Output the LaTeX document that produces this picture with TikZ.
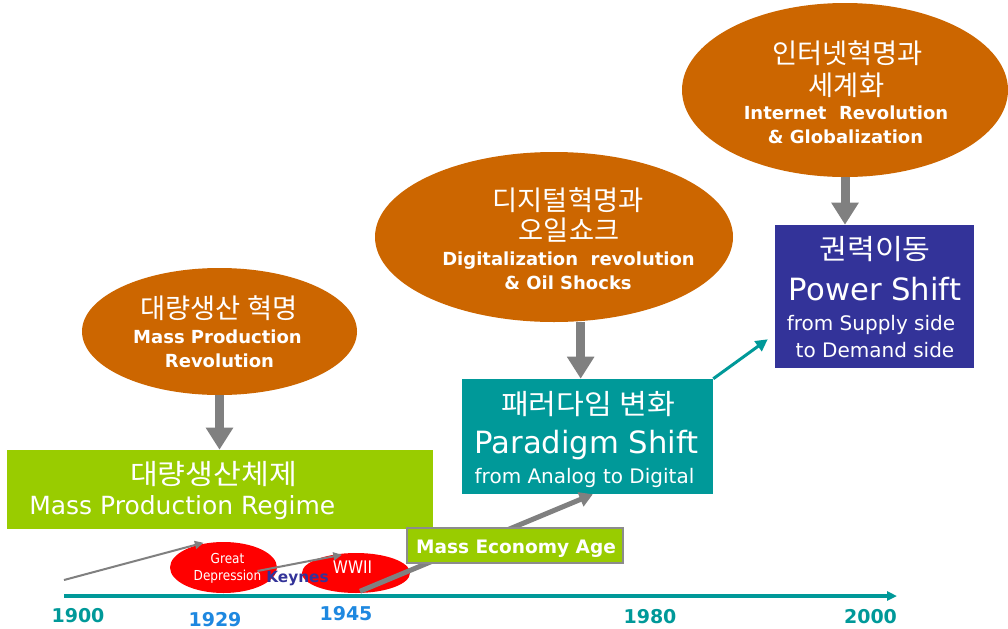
\documentclass[tikz,border=0pt]{standalone}
\usepackage{fontspec}
\setmainfont{DejaVu Sans}
\newfontfamily\kr{Noto Sans CJK KR}
\newfontfamily\krwide[FakeStretch=1.08]{Noto Sans CJK KR}
\newfontfamily\narrowsans[FakeStretch=0.88]{DejaVu Sans}
\usetikzlibrary{shapes.geometric,arrows.meta,calc}
\definecolor{burnt}{HTML}{CC6600}
\definecolor{lime}{HTML}{99CC00}
\definecolor{tealc}{HTML}{009999}
\definecolor{navyc}{HTML}{333399}
\definecolor{arrowgray}{HTML}{808080}
\definecolor{yearblue}{HTML}{1E88E0}
\definecolor{redfill}{HTML}{FF0000}
\definecolor{edgegray}{HTML}{8C8C8C}

\begin{document}
\begin{tikzpicture}[x=0.75pt,y=-0.75pt,
  bubble/.style={ellipse, fill=burnt, draw=none, inner sep=0pt},
  panel/.style={rectangle, draw=none, inner sep=0pt},
  eventblob/.style={ellipse, fill=redfill, draw=none, inner sep=0pt},
  txtline/.style={anchor=base, text=white, inner sep=0pt},
  kor/.style={txtline, font=\kr\fontsize{20.5}{24}\selectfont},
  korpanel/.style={txtline, font=\krwide\fontsize{21}{25}\selectfont},
  engbold/.style={txtline, font=\bfseries\fontsize{13.5}{16}\selectfont},
  engbig/.style={txtline, font=\fontsize{23}{27}\selectfont},
  engsmall/.style={txtline, font=\fontsize{15}{18}\selectfont},
  year/.style={anchor=base, inner sep=0pt, font=\bfseries\fontsize{14.25}{17}\selectfont},
  bigarrow/.style={draw=arrowgray, line width=6.75pt, -{Triangle[width=19.5pt,length=16.5pt]}},
  thinarrow/.style={draw=arrowgray, line width=1.5pt, -{Triangle[width=6pt,length=6.5pt]}},
]
\useasboundingbox (0,0) rectangle (1008,629);
\fill[white] (0,0) rectangle (1008,629);

% ---- time axis ----
\coordinate (tlstart) at (64,596);
\coordinate (tlend) at (897,596);
\draw[tealc, line width=3pt, -{Triangle[width=6.75pt,length=7.5pt]}] (tlstart) -- (tlend);

\node[year, text=tealc]    (y1900) at (78,622)    {1900};
\node[year, text=yearblue] (y1929) at (215,626)   {1929};
\node[year, text=yearblue] (y1945) at (346,620)   {1945};
\node[year, text=tealc]    (y1980) at (650,623)   {1980};
\node[year, text=tealc]    (y2000) at (870.5,623) {2000};

% ---- events on the axis ----
\node[eventblob, minimum width=80.25pt, minimum height=38.25pt] (gd) at (223.5,567.5) {};
\node[eventblob, minimum width=81pt, minimum height=30pt] (ww) at (356,573) {};

\coordinate (early) at (64,580);
\draw[thinarrow] (early) -- ([shift={(-20,1)}]gd.north);
\draw[thinarrow] ([shift={(34,3.5)}]gd.center) -- ([shift={(-14,2)}]ww.north);

\node[txtline, font=\narrowsans\fontsize{10.3}{12}\selectfont] (gdA) at (227.5,563) {Great};
\node[txtline, font=\narrowsans\fontsize{10.3}{12}\selectfont] (gdB) at (227.5,580) {Depression};
\node[txtline, font=\narrowsans\fontsize{13}{15}\selectfont] (wwA) at (352.5,573) {WWII};
\node[anchor=base west, inner sep=0pt, text=navyc, font=\bfseries\fontsize{11.5}{13}\selectfont] (keynes) at (266,582) {Keynes};

% ---- mass production ----
\node[bubble, minimum width=206.25pt, minimum height=95.25pt] (e1) at (219.5,331.5) {};
\node[kor] (e1a) at (219,318) {대량생산 혁명};
\node[engbold] (e1b) at (217.5,343) {Mass Production};
\node[engbold] (e1c) at (219.5,367) {Revolution};

\node[panel, fill=lime, minimum width=319.5pt, minimum height=59.25pt] (mpr) at (220,489.5) {};
\node[korpanel] (mprA) at (213.5,484) {대량생산체제};
\node[txtline, anchor=base west, font=\fontsize{18.75}{22}\selectfont] (mprB) at (29,514) {Mass Production Regime};

\draw[bigarrow] (e1.south) -- (e1.south |- mpr.north);

% ---- digital revolution ----
\node[bubble, minimum width=268.5pt, minimum height=127.5pt] (e2) at (554,237) {};
\node[kor] (e2a) at (568,210) {디지털혁명과};
\node[kor] (e2b) at (569,240) {오일쇼크};
\node[engbold] (e2c) at (568.5,265) {Digitalization\ \ revolution};
\node[engbold] (e2d) at (568,289) {\& Oil Shocks};

\node[panel, fill=tealc, minimum width=188.25pt, minimum height=86.25pt] (para) at (587.5,436.5) {};
\node[korpanel] (paraA) at (588,414) {패러다임 변화};
\node[engbig] (paraB) at (586.5,453) {Paradigm Shift};
\node[engsmall] (paraC) at (584.5,483) {from Analog to Digital};

\draw[bigarrow] ([xshift=20]e2.south) -- ([xshift=20]e2.south |- para.north);

% ---- mass economy age ----
\draw[draw=arrowgray, line width=3.75pt, -{Triangle[width=11pt,length=10pt]}]
  ([shift={(4,-2)}]ww.south) -- ([xshift=4]para.south);
\node[panel, fill=lime, draw=edgegray, line width=1.2pt, minimum width=162pt, minimum height=26.25pt] (mea) at (515,545.5) {};
\node[engbold, font=\bfseries\fontsize{13.9}{16}\selectfont] (meaA) at (516,553) {Mass Economy Age};

% ---- internet revolution ----
\node[bubble, minimum width=244.5pt, minimum height=130.5pt] (e3) at (845,90) {};
\node[kor] (e3a) at (847.5,63) {인터넷혁명과};
\node[kor] (e3b) at (846.5,95) {세계화};
\node[engbold] (e3c) at (846,119) {Internet\ \ Revolution};
\node[engbold] (e3d) at (845.5,143) {\& Globalization};

\node[panel, fill=navyc, minimum width=149.25pt, minimum height=107.25pt] (pow) at (874.5,296.5) {};
\node[korpanel] (powA) at (875,259) {권력이동};
\node[engbig] (powB) at (875,300) {Power Shift};
\node[engsmall] (powC) at (871,330) {from Supply side};
\node[engsmall] (powD) at (875,357) {to Demand side};

\draw[bigarrow] (e3.south) -- (e3.south |- pow.north);

% ---- paradigm shift leads to power shift ----
\draw[tealc, line width=2.25pt, -{Triangle[width=9pt,length=9pt]}]
  (para.north east) -- ([shift={(-7,-29)}]pow.south west);
\end{tikzpicture}
\end{document}
